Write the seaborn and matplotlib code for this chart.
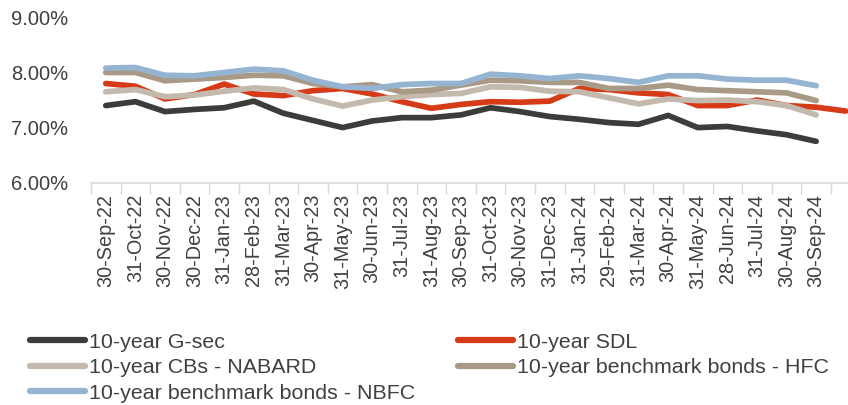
import numpy as np
import pandas as pd
import matplotlib
matplotlib.use("Agg")
import matplotlib.pyplot as plt
from matplotlib.lines import Line2D
import seaborn as sns

dates = ["30-Sep-22", "31-Oct-22", "30-Nov-22", "30-Dec-22", "31-Jan-23", "28-Feb-23",
         "31-Mar-23", "30-Apr-23", "31-May-23", "30-Jun-23", "31-Jul-23", "31-Aug-23",
         "30-Sep-23", "31-Oct-23", "30-Nov-23", "31-Dec-23", "31-Jan-24", "29-Feb-24",
         "31-Mar-24", "30-Apr-24", "31-May-24", "28-Jun-24", "31-Jul-24", "30-Aug-24",
         "30-Sep-24", ""]

gsec = [7.40, 7.47, 7.29, 7.33, 7.36, 7.48, 7.26, 7.13, 7.00, 7.12, 7.18, 7.18, 7.23,
        7.36, 7.29, 7.20, 7.15, 7.09, 7.06, 7.22, 7.00, 7.02, 6.94, 6.87, 6.75]
sdl = [7.80, 7.75, 7.52, 7.60, 7.79, 7.61, 7.58, 7.67, 7.71, 7.61, 7.47, 7.35, 7.42,
       7.47, 7.46, 7.48, 7.71, 7.69, 7.63, 7.60, 7.40, 7.40, 7.50, 7.40, 7.37, 7.30]
nabard = [7.65, 7.69, 7.56, 7.59, 7.66, 7.72, 7.69, 7.52, 7.39, 7.50, 7.56, 7.60, 7.62,
          7.74, 7.73, 7.66, 7.65, 7.54, 7.43, 7.52, 7.49, 7.50, 7.47, 7.40, 7.23]
hfc = [8.00, 8.00, 7.85, 7.88, 7.91, 7.95, 7.94, 7.80, 7.74, 7.78, 7.65, 7.68, 7.77,
       7.86, 7.85, 7.82, 7.82, 7.71, 7.71, 7.77, 7.69, 7.67, 7.65, 7.63, 7.49]
nbfc = [8.08, 8.09, 7.95, 7.94, 8.00, 8.06, 8.03, 7.86, 7.74, 7.71, 7.78, 7.80, 7.80,
        7.97, 7.94, 7.89, 7.94, 7.89, 7.82, 7.94, 7.94, 7.88, 7.86, 7.86, 7.76]

series_names = ["10-year G-sec", "10-year SDL", "10-year CBs - NABARD",
                "10-year benchmark bonds - HFC", "10-year benchmark bonds - NBFC"]
series_values = [gsec, sdl, nabard, hfc, nbfc]
colors = ["#3c3c3a", "#d63a17", "#c3b9ac", "#a99a87", "#94b4d1"]

rows = []
for name, vals in zip(series_names, series_values):
    for i, v in enumerate(vals):
        rows.append({"x": i, "y": v, "series": name})
df = pd.DataFrame(rows)

sns.set_theme(style="white")
plt.rcParams["font.family"] = ["Liberation Sans", "DejaVu Sans"]

fig = plt.figure(figsize=(8.48, 4.05), dpi=100)
ax = fig.add_axes([0.1073, 0.549, 0.9075, 0.408])

sns.lineplot(data=df, x="x", y="y", hue="series", hue_order=series_names,
             palette=colors, linewidth=4.1, ax=ax, legend=False,
             solid_capstyle="round", solid_joinstyle="round", sort=False)

ax.set_xlim(-0.5, len(dates) - 0.5)
ax.set_ylim(6, 9)
ax.set_yticks([6, 7, 8, 9])
ax.set_yticklabels(["6.00%", "7.00%", "8.00%", "9.00%"])
ax.set_xticks(range(len(dates)))
ax.set_xticklabels(dates, rotation=90)
ax.set_xticks(np.arange(-0.5, len(dates), 1), minor=True)
ax.tick_params(axis="x", which="major", length=0, pad=8, labelsize=14.3, labelcolor="#404040")
ax.tick_params(axis="x", which="minor", length=8, width=1, color="#d9d9d9", bottom=True)
ax.tick_params(axis="y", length=0, pad=16.5, labelsize=14.5, labelcolor="#404040")
ax.set_xlabel("")
ax.set_ylabel("")
for s in ["top", "right", "left"]:
    ax.spines[s].set_visible(False)
ax.spines["bottom"].set_color("#d9d9d9")
ax.spines["bottom"].set_linewidth(1.2)
ax.grid(False)

# legend filled row-wise like the reference (matplotlib fills column-wise)
order = [0, 2, 4, 1, 3]
handles = [Line2D([0], [0], color=colors[k], lw=4.5, solid_capstyle="round") for k in order]
labels = [series_names[k] for k in order]
leg = fig.legend(handles, labels, ncol=2, loc="upper left",
                 bbox_to_anchor=(0.035, 0.178), frameon=False, fontsize=15.4,
                 handlelength=2.57, handletextpad=0.2, columnspacing=2.0,
                 labelspacing=0.3, borderaxespad=0, borderpad=0)
for t in leg.get_texts():
    t.set_color("#404040")

fig.savefig("out.png", dpi=100)
